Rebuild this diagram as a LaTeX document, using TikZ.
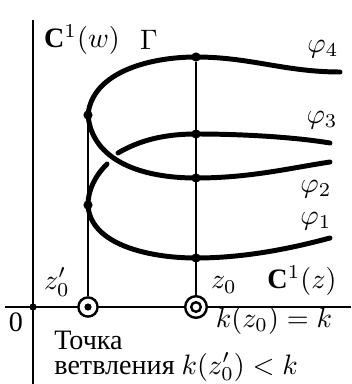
\documentclass[tikz,border=0pt]{standalone}
\usepackage{amsmath,amssymb}
\usepackage{fontspec}
\setmainfont{Liberation Serif}
\usetikzlibrary{positioning}

\begin{document}
\begin{tikzpicture}[x=0.125mm,y=-0.125mm,
  axis/.style={line width=0.27mm},
  stem/.style={line width=0.25mm},
  branch/.style={line width=0.62mm,line cap=round},
  pt/.style={circle,fill,inner sep=0pt,minimum size=1.15mm},
  ring/.style={circle,draw,fill=white,line width=0.3mm,inner sep=0pt,minimum size=2.4mm},
  lbl/.style={inner sep=1pt,font=\fontsize{10}{12}\selectfont}]
  \useasboundingbox (0,0) rectangle (351,384);
  \draw[axis] (33,20) -- (33,384);
  \draw[axis] (5,307) -- (351,307);
  \node[pt,minimum size=0.9mm] (o) at (33,307) {};
  % branch points and points over z0
  \node[pt] (b1) at (88,115) {};
  \node[pt] (b2) at (88,205) {};
  \node[pt] (p4) at (196,57) {};
  \node[pt] (p3) at (196,134) {};
  \node[pt] (p2) at (196,178) {};
  \node[pt] (p1) at (196,258) {};
  \coordinate (e4) at (340,72);
  \coordinate (e3) at (330,143);
  \coordinate (e2) at (330,162);
  \coordinate (e1) at (330,238);
  \coordinate (s3) at (118,153);
  \coordinate (s2) at (107,164);
  % points on C^1(z)
  \node[ring] (zp) at (88,307) {};
  \node[pt,minimum size=0.9mm] at (zp) {};
  \node[ring,minimum size=2.7mm] (z) at (196,307) {};
  \node[circle,draw,line width=0.3mm,inner sep=0pt,minimum size=1.2mm] at (z) {};
  \draw[stem] (b1) -- (zp);
  \draw[stem] (p4) -- (z);
  % sheets of Gamma
  \draw[branch] (b1.center) .. controls (92,72) and (150,57) .. (p4.center)
    .. controls (250,57) and (285,72) .. (e4);
  \draw[branch] (b1.center) .. controls (92,160) and (140,178) .. (p2.center)
    .. controls (250,178) and (290,168) .. (e2);
  \draw[branch] (s3) .. controls (140,140) and (165,134) .. (p3.center)
    .. controls (250,134) and (300,138) .. (e3);
  \draw[branch] (s2) .. controls (95,176) and (88,190) .. (b2.center)
    .. controls (90,245) and (150,258) .. (p1.center)
    .. controls (250,258) and (300,246) .. (e1);
  % labels
  \node[lbl] (cw) at (82,40) {$\mathbf{C}^1(w)$};
  \node[lbl] (gam) at (149,40) {$\Gamma$};
  \node[lbl] (f4) at (323,49) {$\varphi_4$};
  \node[lbl] (f3) at (322,120) {$\varphi_3$};
  \node[lbl] (f2) at (316,189) {$\varphi_2$};
  \node[lbl] (f1) at (316,221) {$\varphi_1$};
  \node[lbl] (lzp) at (57,282) {$z_0'$};
  \node[lbl] (lz) at (224,285) {$z_0$};
  \node[lbl] (cz) at (302,281) {$\mathbf{C}^1(z)$};
  \node[lbl] (zero) at (16,322) {0};
  \node[lbl] (kz) at (274,320) {$k(z_0)=k$};
  \node[lbl,anchor=base west] (tch) at (51,349) {Точка};
  \node[lbl,anchor=base west] (vetv) at (51,374) {ветвления $k(z_0')<k$};
\end{tikzpicture}
\end{document}
